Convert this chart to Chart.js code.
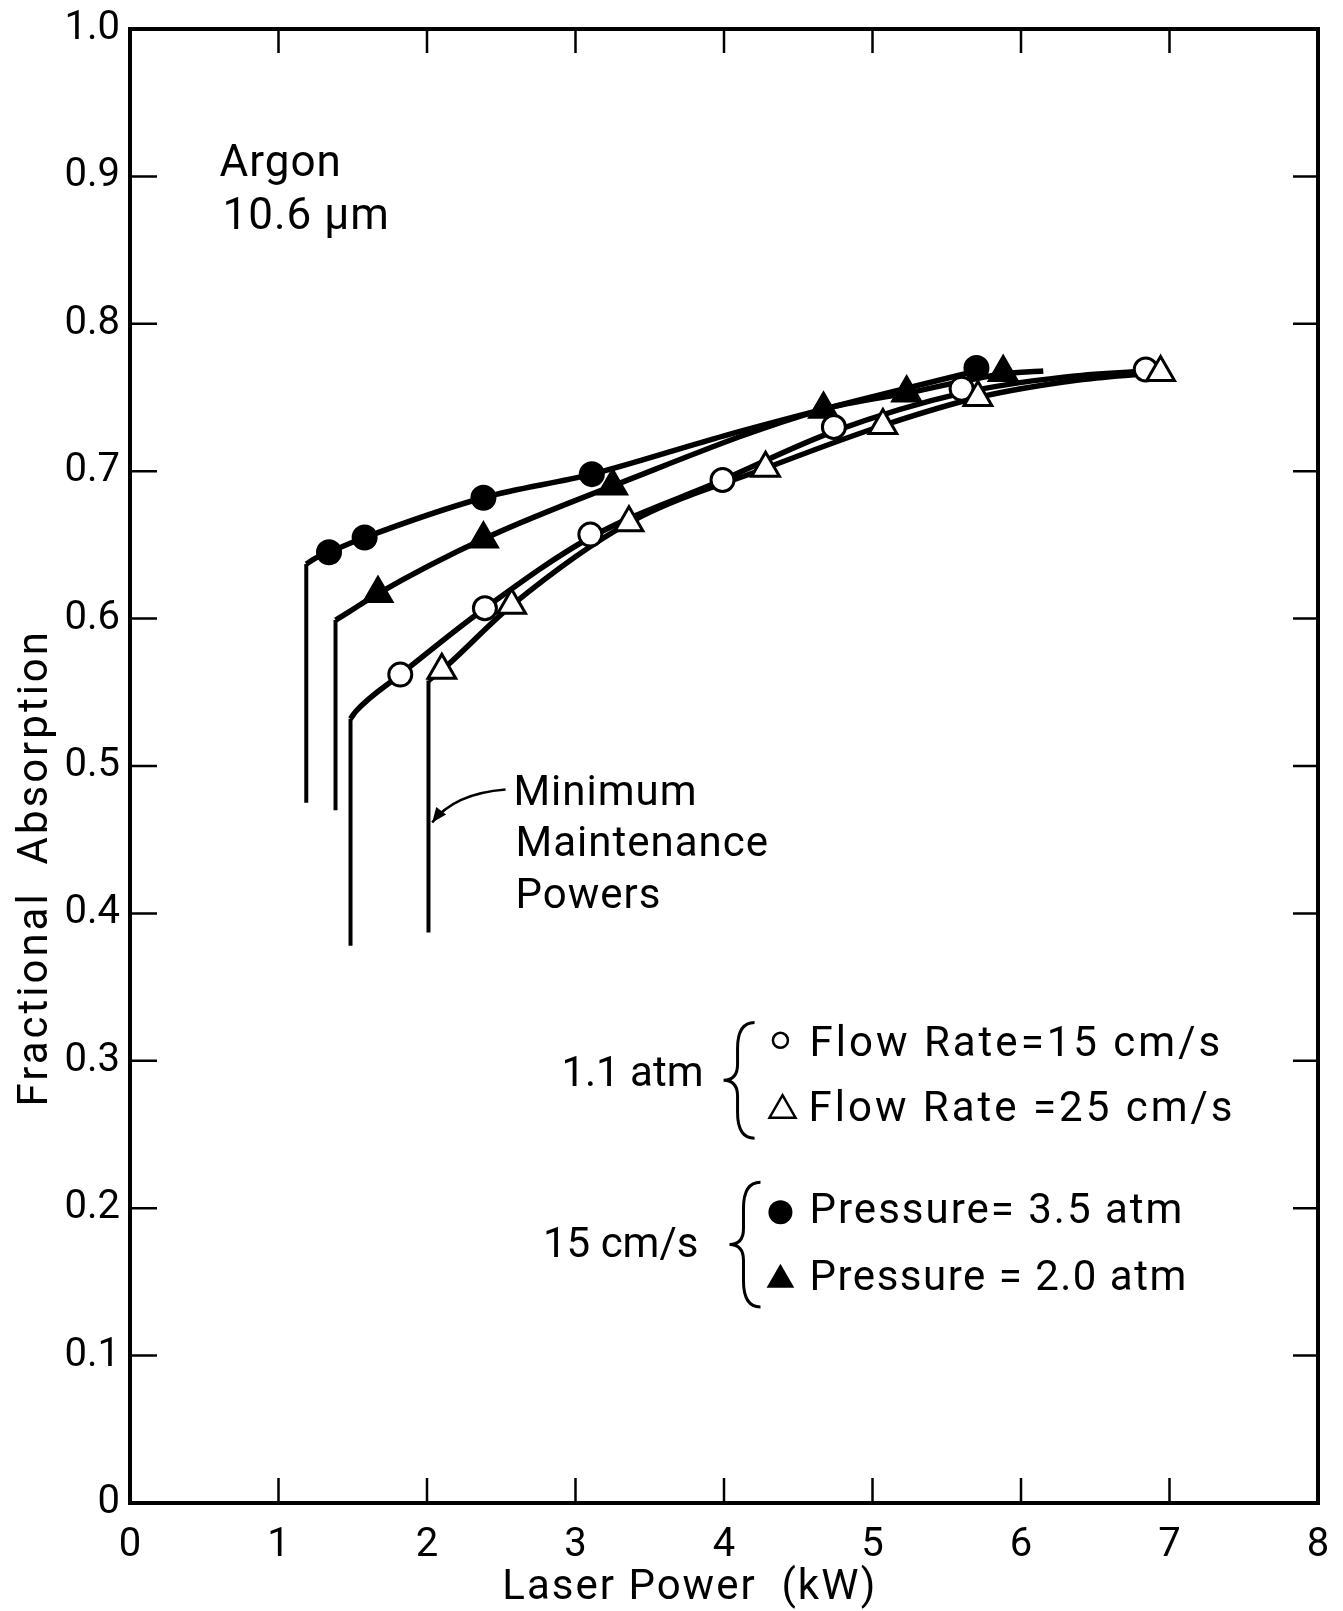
<!DOCTYPE html>
<html>
<head>
<meta charset="utf-8">
<script src="https://cdn.jsdelivr.net/npm/chart.js@4"></script>
<style>
  html, body { margin: 0; padding: 0; background: #fff; }
  canvas { display: block; }
</style>
</head>
<body>
<canvas id="chartCanvas" width="1343" height="1611"></canvas>
<script>
"use strict";

// tick labels
const xTickLabels = ['0', '1', '2', '3', '4', '5', '6', '7', '8'];
const yTickLabels = ['0', '0.1', '0.2', '0.3', '0.4', '0.5', '0.6', '0.7', '0.8', '0.9', '1.0'];

// measured points: laser power (kW) vs fractional absorption
// 15 cm/s, pressure 3.5 atm (filled circles)
const p35Power  = [1.34, 1.58, 2.38, 3.11, 5.70];
const p35Absorb = [0.645, 0.655, 0.682, 0.698, 0.770];
// 15 cm/s, pressure 2.0 atm (filled triangles)
const p20Power  = [1.67, 2.38, 3.25, 4.67, 5.23, 5.88];
const p20Absorb = [0.617, 0.654, 0.690, 0.742, 0.753, 0.767];
// 1.1 atm, flow 15 cm/s (open circles)
const f15Power  = [1.82, 2.39, 3.10, 3.99, 4.74, 5.60, 6.84];
const f15Absorb = [0.562, 0.607, 0.657, 0.694, 0.730, 0.756, 0.769];
// 1.1 atm, flow 25 cm/s (open triangles)
const f25Power  = [2.10, 2.57, 3.36, 4.28, 5.07, 5.71, 6.94];
const f25Absorb = [0.565, 0.609, 0.665, 0.702, 0.731, 0.750, 0.767];

// faired curves
const p35CurvePower  = [1.187, 1.25, 1.34, 1.58, 2.38, 3.11, 4.0, 4.9, 5.70];
const p35CurveAbsorb = [0.637, 0.641, 0.645, 0.655, 0.682, 0.698, 0.724, 0.748, 0.768];
const p20CurvePower  = [1.384, 1.45, 1.67, 2.38, 3.25, 4.67, 5.23, 5.88, 6.15];
const p20CurveAbsorb = [0.599, 0.603, 0.617, 0.654, 0.690, 0.742, 0.753, 0.766, 0.768];
const f15CurvePower  = [1.485, 1.52, 1.82, 2.39, 3.10, 3.99, 4.74, 5.60, 6.30, 6.84];
const f15CurveAbsorb = [0.532, 0.537, 0.562, 0.607, 0.655, 0.694, 0.727, 0.753, 0.764, 0.768];
const f25CurvePower  = [2.010, 2.10, 2.57, 3.36, 4.28, 5.07, 5.71, 6.40, 6.94];
const f25CurveAbsorb = [0.558, 0.565, 0.609, 0.665, 0.702, 0.731, 0.750, 0.762, 0.767];

// minimum maintenance powers (vertical drops): power, lower end, upper end
const minPower  = [1.187, 1.384, 1.485, 2.010];
const minBottom = [0.475, 0.470, 0.378, 0.387];
const minTop    = [0.637, 0.599, 0.532, 0.558];

const black = '#000';
const FONT = 'Roboto, "Liberation Sans", sans-serif';

const pts = (xs, ys) => xs.map((x, i) => ({ x: x, y: ys[i] }));

function curve(xs, ys) {
    return {
        data: pts(xs, ys), showLine: true, borderColor: black, borderWidth: 5.5,
        pointRadius: 0, cubicInterpolationMode: 'monotone', order: 10
    };
}

function drop(i) {
    return {
        data: [{ x: minPower[i], y: minBottom[i] }, { x: minPower[i], y: minTop[i] }],
        showLine: true, borderColor: black, borderWidth: 4, pointRadius: 0, tension: 0, order: 10
    };
}

function marks(xs, ys, style, filled, r, order) {
    return {
        data: pts(xs, ys), showLine: false, pointStyle: style, pointRadius: r,
        pointBackgroundColor: filled ? black : '#fff', pointBorderColor: black,
        pointBorderWidth: 3, order: order
    };
}

// text and decorations, anchored in data units
const notes = [
    { text: 'Argon', x: 0.603, y: 0.900, align: 'left', base: 'alphabetic', size: 44, sp: 1 },
    { text: '10.6 \u03bcm', x: 0.623, y: 0.864, align: 'left', base: 'alphabetic', size: 44, sp: 1 },
    { text: 'Minimum', x: 2.582, y: 0.481, align: 'left', base: 'middle', size: 42, sp: 1 },
    { text: 'Maintenance', x: 2.596, y: 0.446, align: 'left', base: 'middle', size: 42, sp: 1 },
    { text: 'Powers', x: 2.596, y: 0.411, align: 'left', base: 'middle', size: 42, sp: 1 },
    { text: '1.1 atm', x: 3.862, y: 0.290, align: 'right', base: 'middle', size: 42, sp: 0 },
    { text: 'Flow Rate=15 cm/s', x: 4.576, y: 0.3105, align: 'left', base: 'middle', size: 42, sp: 3 },
    { text: 'Flow Rate =25 cm/s', x: 4.569, y: 0.2664, align: 'left', base: 'middle', size: 42, sp: 3 },
    { text: '15 cm/s', x: 3.828, y: 0.1742, align: 'right', base: 'middle', size: 42, sp: 0 },
    { text: 'Pressure= 3.5 atm', x: 4.576, y: 0.1973, align: 'left', base: 'middle', size: 42, sp: 2 },
    { text: 'Pressure = 2.0 atm', x: 4.576, y: 0.1519, align: 'left', base: 'middle', size: 42, sp: 1.5 }
];
const keyMarks = [
    { style: 'circle', filled: false, x: 4.380, y: 0.3139, r: 7.5 },
    { style: 'triangle', filled: false, x: 4.394, y: 0.2665, r: 15 },
    { style: 'circle', filled: true, x: 4.380, y: 0.1973, r: 12 },
    { style: 'triangle', filled: true, x: 4.380, y: 0.1515, r: 16 }
];
const braces = [
    { x: 3.997, top: 0.326, bottom: 0.2475 },
    { x: 4.037, top: 0.2176, bottom: 0.133 }
];

function keyMark(ctx, m, cx, cy) {
    ctx.beginPath();
    if (m.style === 'circle') {
        ctx.arc(cx, cy, m.r, 0, Math.PI * 2);
    } else {
        for (let k = 0; k < 3; k++) {
            const a = k * 2 * Math.PI / 3;
            const px = cx + Math.sin(a) * m.r, py = cy - Math.cos(a) * m.r;
            if (k) ctx.lineTo(px, py); else ctx.moveTo(px, py);
        }
        ctx.closePath();
    }
    if (m.filled) { ctx.fill(); } else { ctx.lineWidth = 2.5; ctx.stroke(); }
}

function brace(ctx, xt, yt, yb) {
    const ym = (yt + yb) / 2, xs = xt + 14, xr = xt + 31;
    ctx.beginPath();
    ctx.moveTo(xr, yt);
    ctx.quadraticCurveTo(xs, yt, xs, yt + 26);
    ctx.lineTo(xs, ym - 16);
    ctx.quadraticCurveTo(xs, ym, xt, ym);
    ctx.quadraticCurveTo(xs, ym, xs, ym + 16);
    ctx.lineTo(xs, yb - 26);
    ctx.quadraticCurveTo(xs, yb, xr, yb);
    ctx.lineWidth = 3;
    ctx.stroke();
}

const framePlugin = {
    id: 'frame',
    afterDraw(chart) {
        const { ctx, chartArea: a, scales: { x, y } } = chart;
        ctx.save();
        ctx.strokeStyle = black;
        ctx.fillStyle = black;
        ctx.lineWidth = 4;
        ctx.strokeRect(a.left, a.top, a.right - a.left, a.bottom - a.top);

        // inward ticks on all four sides
        ctx.lineWidth = 2.5;
        ctx.beginPath();
        for (let i = 1; i < xTickLabels.length - 1; i++) {
            const px = x.getPixelForValue(i);
            ctx.moveTo(px, a.bottom); ctx.lineTo(px, a.bottom - 25);
            ctx.moveTo(px, a.top); ctx.lineTo(px, a.top + 24);
        }
        for (let i = 1; i < yTickLabels.length - 1; i++) {
            const py = y.getPixelForValue(i / 10);
            ctx.moveTo(a.left, py); ctx.lineTo(a.left + 27, py);
            ctx.moveTo(a.right, py); ctx.lineTo(a.right - 25, py);
        }
        ctx.stroke();

        // annotations
        notes.forEach(n => {
            ctx.font = n.size + 'px ' + FONT;
            ctx.textAlign = n.align;
            ctx.textBaseline = n.base;
            ctx.letterSpacing = n.sp + 'px';
            ctx.fillText(n.text, x.getPixelForValue(n.x), y.getPixelForValue(n.y));
        });
        ctx.letterSpacing = '0px';
        keyMarks.forEach(m => keyMark(ctx, m, x.getPixelForValue(m.x), y.getPixelForValue(m.y)));
        braces.forEach(b => brace(ctx, x.getPixelForValue(b.x), y.getPixelForValue(b.top), y.getPixelForValue(b.bottom)));

        // arrow to the minimum maintenance power line
        const sx = x.getPixelForValue(2.529), sy = y.getPixelForValue(0.484);
        const cx = x.getPixelForValue(2.185), cy = y.getPixelForValue(0.4813);
        const ex = x.getPixelForValue(2.035), ey = y.getPixelForValue(0.4617);
        ctx.lineWidth = 2.5;
        ctx.beginPath();
        ctx.moveTo(sx, sy);
        ctx.quadraticCurveTo(cx, cy, ex, ey);
        ctx.stroke();
        const ang = Math.atan2(ey - cy, ex - cx);
        ctx.beginPath();
        ctx.moveTo(ex, ey);
        ctx.lineTo(ex - 16 * Math.cos(ang - 0.4), ey - 16 * Math.sin(ang - 0.4));
        ctx.lineTo(ex - 16 * Math.cos(ang + 0.4), ey - 16 * Math.sin(ang + 0.4));
        ctx.closePath();
        ctx.fill();

        // axis titles
        ctx.textAlign = 'center';
        ctx.textBaseline = 'middle';
        ctx.font = '42px ' + FONT;
        ctx.letterSpacing = '2px';
        ctx.fillText('Laser Power  (kW)', x.getPixelForValue(3.77), chart.height - 23);
        ctx.save();
        ctx.translate(36, y.getPixelForValue(0.431));
        ctx.rotate(-Math.PI / 2);
        ctx.letterSpacing = '3px';
        ctx.fillText('Fractional  Absorption', 0, 0);
        ctx.restore();
        ctx.restore();
    }
};

const ctx = document.getElementById('chartCanvas').getContext('2d');
const chart = new Chart(ctx, {
    type: 'scatter',
    data: {
        datasets: [
            drop(0), drop(1), drop(2), drop(3),
            curve(p35CurvePower, p35CurveAbsorb),
            curve(p20CurvePower, p20CurveAbsorb),
            curve(f15CurvePower, f15CurveAbsorb),
            curve(f25CurvePower, f25CurveAbsorb),
            marks(p20Power, p20Absorb, 'triangle', true, 16, 6),
            marks(p35Power, p35Absorb, 'circle', true, 11.5, 5),
            marks(f15Power, f15Absorb, 'circle', false, 11.5, 2),
            marks(f25Power, f25Absorb, 'triangle', false, 16, 1)
        ]
    },
    options: {
        responsive: false,
        animation: false,
        devicePixelRatio: 1,
        layout: { padding: { top: 29, right: 25, left: 0, bottom: 0 } },
        plugins: { legend: { display: false }, tooltip: { enabled: false } },
        scales: {
            x: {
                type: 'linear', min: 0, max: 8,
                afterFit: s => { s.height = 108; s.paddingLeft = 0; s.paddingRight = 0; },
                grid: { display: false, drawTicks: false },
                border: { display: false },
                ticks: {
                    stepSize: 1, color: black, padding: 19,
                    font: { family: FONT, size: 40 },
                    callback: (v, i) => xTickLabels[i]
                }
            },
            y: {
                type: 'linear', min: 0, max: 1,
                afterFit: s => { s.width = 130; s.paddingTop = 0; s.paddingBottom = 0; },
                grid: { display: false, drawTicks: false },
                border: { display: false },
                ticks: {
                    stepSize: 0.1, color: black, padding: 10,
                    font: { family: FONT, size: 40 },
                    callback: (v, i) => yTickLabels[i]
                }
            }
        }
    },
    plugins: [framePlugin]
});
</script>
</body>
</html>
